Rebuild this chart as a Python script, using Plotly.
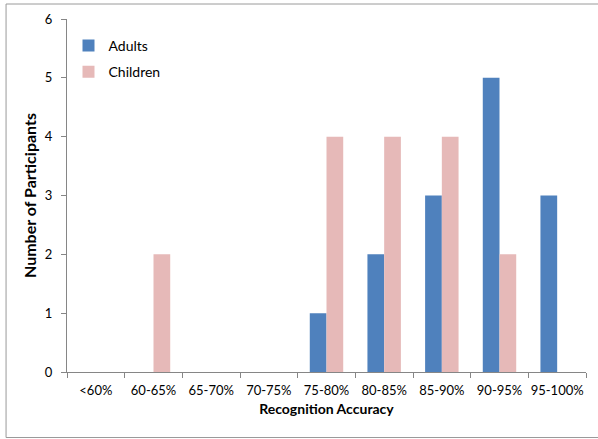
import plotly.graph_objects as go

# Histogram of recognition accuracy, binned by 5% bands
categories = ["<60%", "60-65%", "65-70%", "70-75%", "75-80%",
              "80-85%", "85-90%", "90-95%", "95-100%"]
adults = [0, 0, 0, 0, 1, 2, 3, 5, 3]
children = [0, 2, 0, 0, 4, 4, 4, 2, 0]
y_ticks = [0, 1, 2, 3, 4, 5, 6]

FONT = "Lato, 'Open Sans', sans-serif"
AXIS_GRAY = "#868686"

fig = go.Figure()
fig.add_bar(x=categories, y=adults, name="Adults",
            marker=dict(color="#4F81BD", line=dict(width=0)), legendgroup="a")
fig.add_bar(x=categories, y=children, name="Children",
            marker=dict(color="#E6B9B8", line=dict(width=0)), legendgroup="c")

W, H = 598, 439
L, R, T, B = 66.5, 12, 19, 67
pw, ph = W - L - R, H - T - B


def px_to_paper_x(px):
    return (px - L) / pw


def px_to_paper_y(py):
    return (H - B - py) / ph


fig.update_layout(
    width=W, height=H,
    margin=dict(l=L, r=R, t=T, b=B, pad=0),
    paper_bgcolor="white", plot_bgcolor="white",
    font=dict(family=FONT, size=13, color="#000000"),
    barmode="group", bargap=0.42, bargroupgap=0,
    showlegend=True,
    legend=dict(
        x=px_to_paper_x(68), y=px_to_paper_y(30),
        xanchor="left", yanchor="top",
        bgcolor="rgba(0,0,0,0)", borderwidth=0,
        font=dict(family=FONT, size=14),
        traceorder="grouped", tracegroupgap=5, itemwidth=30,
    ),
    xaxis=dict(
        type="category", tickson="boundaries", tickangle=0,
        ticks="outside", ticklen=5, tickcolor=AXIS_GRAY, tickwidth=1,
        showline=True, linecolor=AXIS_GRAY, linewidth=1,
        showgrid=False, zeroline=False,
        tickfont=dict(family=FONT, size=13),
        ticklabelstandoff=6,
        title=dict(text="<b>Recognition Accuracy</b>", standoff=7,
                   font=dict(family=FONT, size=14)),
        automargin=False,
    ),
    yaxis=dict(
        range=[0, 6], tickvals=y_ticks,
        ticks="outside", ticklen=5, tickcolor=AXIS_GRAY, tickwidth=1,
        showline=True, linecolor=AXIS_GRAY, linewidth=1,
        showgrid=False, zeroline=False,
        tickfont=dict(family=FONT, size=13),
        ticklabelstandoff=6,
        title=dict(text="<b>Number of Participants</b>", standoff=4,
                   font=dict(family=FONT, size=16)),
        automargin=False,
    ),
    shapes=[dict(
        type="rect", xref="paper", yref="paper",
        x0=px_to_paper_x(5.5), x1=px_to_paper_x(601),
        y0=px_to_paper_y(437.5), y1=px_to_paper_y(4),
        line=dict(color="#9A9A9A", width=1), fillcolor="rgba(0,0,0,0)",
        layer="below",
    )],
)

fig.write_html("out.html")
